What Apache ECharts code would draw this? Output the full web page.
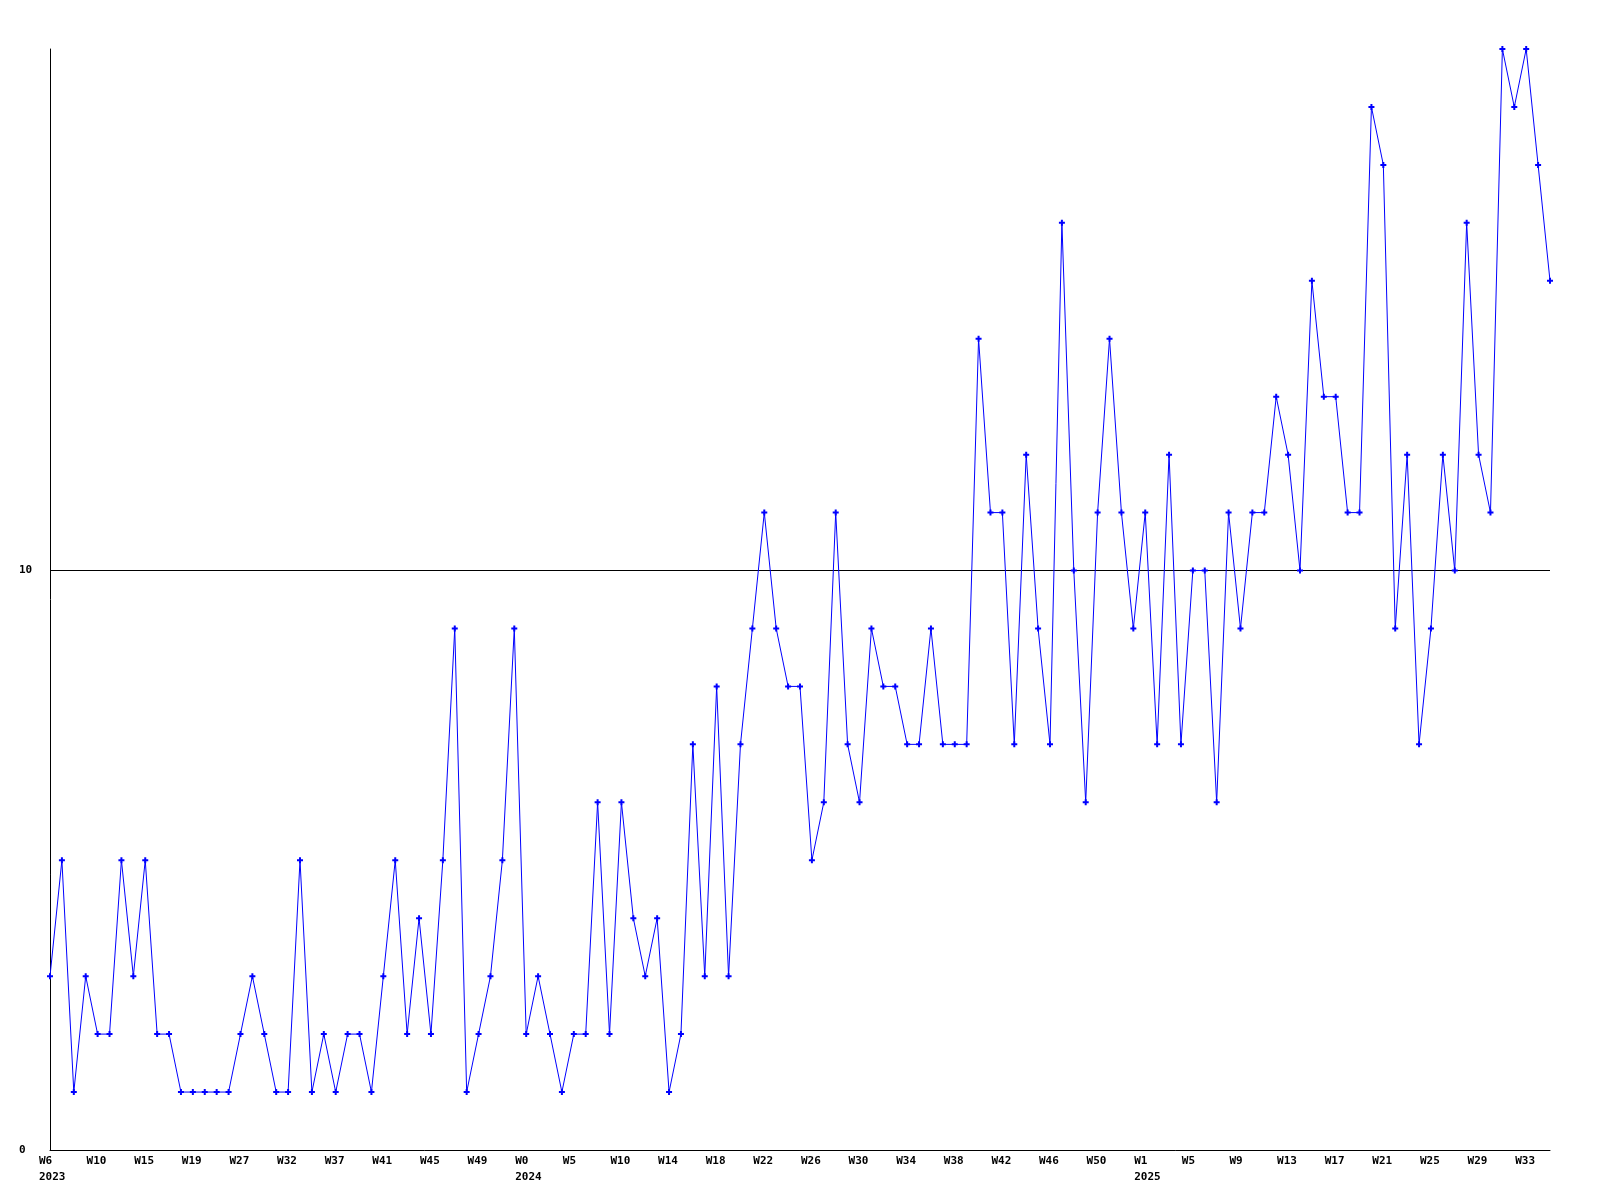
<!DOCTYPE html>
<html>
<head>
<meta charset="utf-8">
<script src="https://cdn.jsdelivr.net/npm/echarts@6/dist/echarts.min.js"></script>
<style>
html,body{margin:0;padding:0;background:#fff;}
#chart{width:1600px;height:1200px;}
</style>
</head>
<body>
<div id="chart"></div>
<script>
const weeks = [
  "W6","W7","W8","W9","W10","W11","W12","W13","W15","W16",
  "W17","W18","W19","W21","W23","W25","W27","W28","W29","W31",
  "W32","W33","W34","W36","W37","W38","W39","W40","W41","W42",
  "W43","W44","W45","W46","W47","W48","W49","W50","W51","W52",
  "W0","W1","W2","W3","W5","W6","W7","W9","W10","W11",
  "W12","W13","W14","W15","W16","W17","W18","W19","W20","W21",
  "W22","W23","W24","W25","W26","W27","W28","W29","W30","W31",
  "W32","W33","W34","W35","W36","W37","W38","W39","W40","W41",
  "W42","W43","W44","W45","W46","W47","W48","W49","W50","W51",
  "W52","W0","W1","W2","W3","W4","W5","W6","W7","W8",
  "W9","W10","W11","W12","W13","W14","W15","W16","W17","W18",
  "W19","W20","W21","W22","W23","W24","W25","W26","W27","W28",
  "W29","W30","W31","W32","W33","W34","W35"
];
const yearAtIndex = [[0, "2023"], [40, "2024"], [92, "2025"]];
const values = [
  3,5,1,3,2,2,5,3,5,2,
  2,1,1,1,1,1,2,3,2,1,
  1,5,1,2,1,2,2,1,3,5,
  2,4,2,5,9,1,2,3,5,9,
  2,3,2,1,2,2,6,2,6,4,
  3,4,1,2,7,3,8,3,7,9,
  11,9,8,8,5,6,11,7,6,9,
  8,8,7,7,9,7,7,7,14,11,
  11,7,12,9,7,16,10,6,11,14,
  11,9,11,7,12,7,10,10,6,11,
  9,11,11,13,12,10,15,13,13,11,
  11,18,17,9,12,7,9,12,10,16,
  12,11,19,18,19,17,15
];
const yTicks = [0, 10];

const yearMap = {};
yearAtIndex.forEach(([i, y]) => { yearMap[i] = y; });

const FONT = "'DejaVu Sans Mono', 'Liberation Mono', monospace";
const chart = echarts.init(document.getElementById('chart'), null, {renderer: 'canvas'});
chart.setOption({
  animation: false,
  backgroundColor: '#ffffff',
  grid: {left: 50, right: 50, top: 49, bottom: 50, containLabel: false, outerBoundsMode: 'none'},
  xAxis: {
    type: 'category',
    data: weeks,
    boundaryGap: false,
    axisLine: {show: true, lineStyle: {color: '#000', width: 1}},
    axisTick: {show: false},
    splitLine: {show: false},
    axisLabel: {
      interval: 3,
      margin: 3,
      align: 'center',
      formatter: function (val, idx) {
        const y = yearMap[idx];
        return y ? '{a|' + val + '}\n{a|' + y + '}' : '{a|' + val + '}';
      },
      rich: {
        a: {width: 22, align: 'left', fontFamily: FONT, fontWeight: 'bold', fontSize: 11, color: '#000', lineHeight: 16}
      }
    }
  },
  yAxis: {
    type: 'value',
    min: 0,
    max: 19,
    interval: 10,
    axisLine: {show: true, lineStyle: {color: '#000', width: 1}},
    axisTick: {show: false},
    splitLine: {show: true, showMinLine: false, showMaxLine: false, lineStyle: {color: '#000', width: 1}},
    axisLabel: {
      showMaxLabel: false,
      align: 'left',
      margin: 31,
      fontFamily: FONT,
      fontWeight: 'bold',
      fontSize: 11,
      color: '#000',
      formatter: function (v) { return yTicks.indexOf(v) >= 0 ? String(v) : ''; }
    }
  },
  series: [{
    type: 'line',
    data: values,
    showAllSymbol: true,
    symbol: 'path://M2,0H4V2H6V4H4V6H2V4H0V2H2Z',
    symbolSize: 6,
    itemStyle: {color: '#0000ff'},
    lineStyle: {color: '#0000ff', width: 1},
    emphasis: {disabled: true}
  }]
});
</script>
</body>
</html>
